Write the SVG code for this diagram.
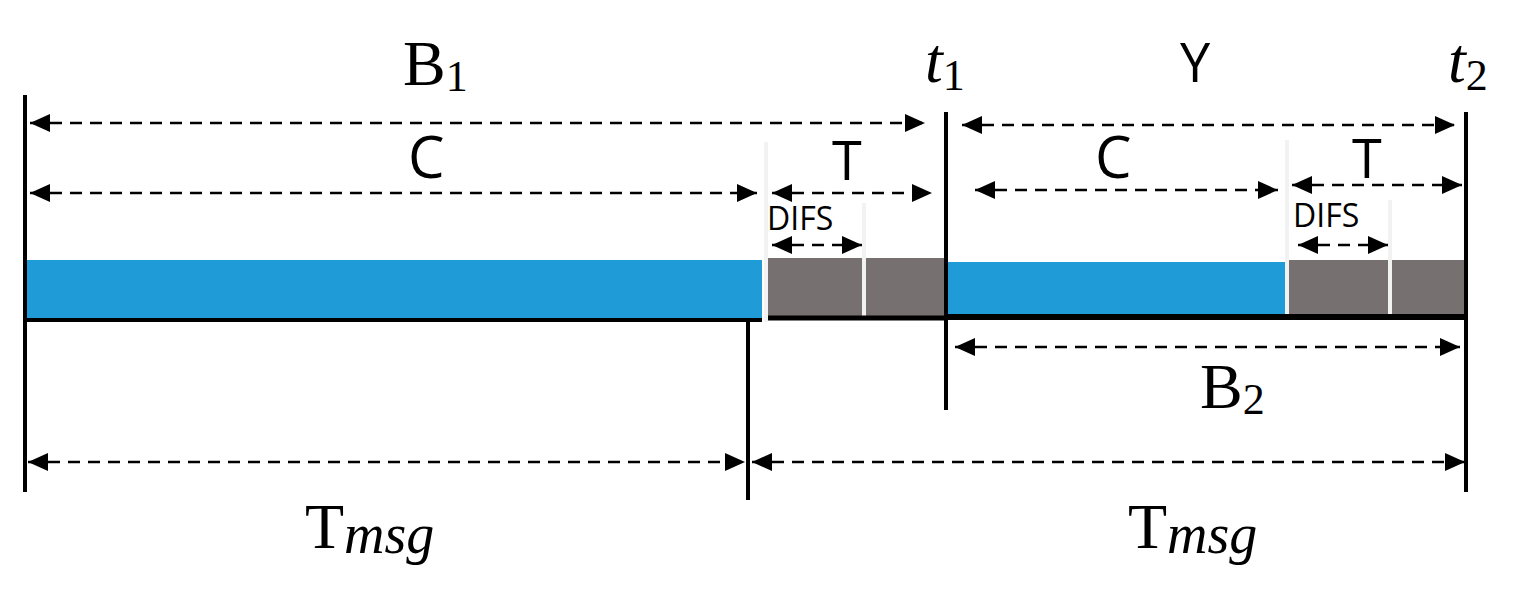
<svg xmlns="http://www.w3.org/2000/svg" width="1520" height="590" viewBox="0 0 1520 590">
<style>
.d{stroke:#000;stroke-width:2.5;stroke-dasharray:12,8;fill:none;marker-start:url(#a);marker-end:url(#a)}
.v{stroke:#000;stroke-width:4}
.s{font-family:"Open Sans","Liberation Sans",sans-serif;fill:#000}
.m{font-family:"Liberation Serif",serif;fill:#000}
.sep{stroke:#f2f2f2;stroke-width:4}
</style>
<defs><marker id="a" viewBox="0 0 10 10" refX="10" refY="5" markerWidth="20" markerHeight="18" markerUnits="userSpaceOnUse" orient="auto-start-reverse" preserveAspectRatio="none"><path d="M0,0L10,5L0,10z" fill="#000"/></marker></defs>
<g id="bars">
<rect x="25" y="260" width="737" height="60" fill="#1f9bd7"/>
<rect x="766" y="258" width="179" height="60" fill="#767070"/>
<rect x="948" y="262" width="337" height="54" fill="#1f9bd7"/>
<rect x="1288" y="260" width="178" height="56" fill="#767070"/>
<line class="sep" x1="766" y1="142" x2="766" y2="322"/>
<line class="sep" x1="864" y1="203" x2="864" y2="318"/>
<line class="sep" x1="1287" y1="140" x2="1287" y2="318"/>
<line class="sep" x1="1390" y1="200" x2="1390" y2="316"/>
<line x1="25" y1="320" x2="762" y2="320" stroke="#000" stroke-width="4"/>
<line x1="768" y1="318" x2="945" y2="318" stroke="#000" stroke-width="5"/>
<line x1="945" y1="317" x2="1468" y2="317" stroke="#000" stroke-width="6"/>
</g>
<g id="connectors">
<line class="v" x1="25" y1="95" x2="25" y2="492"/>
<line class="v" x1="748" y1="320" x2="748" y2="500"/>
<line class="v" x1="946" y1="112" x2="946" y2="410"/>
<line class="v" x1="1466" y1="112" x2="1466" y2="492"/>
<path class="d" d="M30 123H925"/>
<path class="d" d="M30 193H757"/>
<path class="d" d="M772 193H932"/>
<path class="d" d="M772 245H862"/>
<path class="d" d="M962 125H1455"/>
<path class="d" d="M975 190H1278"/>
<path class="d" d="M1292 185H1462"/>
<path class="d" d="M1298 245H1388"/>
<path class="d" d="M955 347H1460"/>
<path class="d" d="M28 462H745"/>
<path class="d" d="M752 462H1465"/>
</g>
<g id="labels">
<text class="m" x="403" y="85" font-size="64">B<tspan font-size="44" dy="6">1</tspan></text>
<text class="m" x="925" y="82" font-size="64" font-style="italic">t<tspan font-size="44" font-style="normal" dy="8">1</tspan></text>
<text class="s" x="1180" y="82" font-size="54">Y</text>
<text class="m" x="1448" y="82" font-size="64" font-style="italic">t<tspan font-size="44" font-style="normal" dy="8">2</tspan></text>
<text class="s" x="408" y="178" font-size="58">C</text>
<text class="s" x="832" y="180" font-size="54">T</text>
<text class="s" x="1095" y="178" font-size="58">C</text>
<text class="s" x="1352" y="178" font-size="54">T</text>
<text class="s" x="767" y="230" font-size="32">DIFS</text>
<text class="s" x="1293" y="227" font-size="32">DIFS</text>
<text class="m" x="1200" y="408" font-size="64">B<tspan font-size="44" dy="6">2</tspan></text>
<text class="m" x="305" y="548" font-size="64">T<tspan font-style="italic" font-size="56" dy="5">msg</tspan></text>
<text class="m" x="1128" y="548" font-size="64">T<tspan font-style="italic" font-size="56" dy="5">msg</tspan></text>
</g>
</svg>
